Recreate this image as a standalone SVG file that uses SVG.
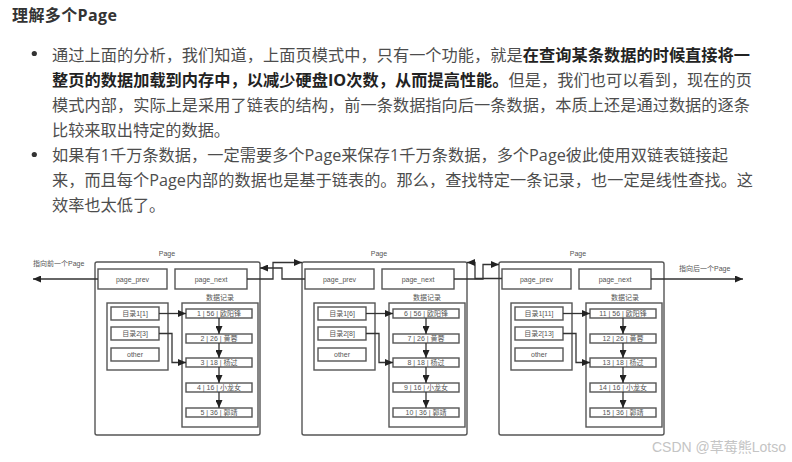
<svg xmlns="http://www.w3.org/2000/svg" width="792" height="462" viewBox="0 0 792 462">
<defs>
<style>
.body{font-family:"Open Sans","Noto Sans CJK SC",sans-serif;font-size:16.2px;fill:#4d4d4d}
.b{font-weight:bold;fill:#222}
.title{font-family:"Open Sans","Noto Sans CJK SC",sans-serif;font-size:16px;font-weight:bold;fill:#333}
.bx{fill:#fff;stroke:#555;stroke-width:1.4}
.ol{fill:none;stroke:#555;stroke-width:1.4}
.t{font-family:"Liberation Sans","Noto Sans CJK SC",sans-serif;font-size:7px;fill:#555;text-anchor:middle}
.tl{font-family:"Liberation Sans","Noto Sans CJK SC",sans-serif;font-size:7px;fill:#555}
.c{fill:none;stroke:#333;stroke-width:1.3;marker-end:url(#ah)}
.wm{font-family:"Liberation Sans","Noto Sans CJK SC",sans-serif;font-size:14px;fill:#c4c4c4}
</style>
<marker id="ah" markerUnits="userSpaceOnUse" markerWidth="8" markerHeight="7" refX="8" refY="3.5" orient="auto">
<path d="M0,0 L8,3.5 L0,7 Z" fill="#222"/>
</marker>
</defs>
<rect width="792" height="462" fill="#fff"/>
<g id="heading"><text class="title" x="12" y="21" textLength="105">理解多个Page</text></g>
<g id="bullets">
<circle cx="34.3" cy="53.5" r="2.6" fill="#333"/>
<circle cx="34.3" cy="154.5" r="2.6" fill="#333"/>
<text class="body" x="52" y="61" textLength="698">通过上面的分析，我们知道，上面页模式中，只有一个功能，就是<tspan class="b">在查询某条数据的时候直接将一</tspan></text>
<text class="body" x="52" y="86" textLength="700"><tspan class="b">整页的数据加载到内存中，以减少硬盘IO次数，从而提高性能。</tspan>但是，我们也可以看到，现在的页</text>
<text class="body" x="52" y="111" textLength="698">模式内部，实际上是采用了链表的结构，前一条数据指向后一条数据，本质上还是通过数据的逐条</text>
<text class="body" x="52" y="136">比较来取出特定的数据。</text>
<text class="body" x="52" y="161" textLength="676">如果有1千万条数据，一定需要多个Page来保存1千万条数据，多个Page彼此使用双链表链接起</text>
<text class="body" x="52" y="186" textLength="701">来，而且每个Page内部的数据也是基于链表的。那么，查找特定一条记录，也一定是线性查找。这</text>
<text class="body" x="52" y="211">效率也太低了。</text>
</g>

<g id="page1">
<rect class="ol" x="95" y="262" width="165" height="173" rx="2"/>
<text class="t" x="167" y="255.5">Page</text>
<g id="p1-prev"><rect class="bx" x="98" y="269" width="69" height="20"/><text class="t" x="132.5" y="281.5">page_prev</text></g>
<g id="p1-next"><rect class="bx" x="175" y="269" width="72" height="20"/><text class="t" x="211" y="281.5">page_next</text></g>
<g id="p1-dir"><rect class="bx" x="107" y="303" width="61" height="67"/></g>
<g id="p1-d1"><rect class="bx" x="111" y="307" width="48" height="13"/><text class="t" x="135" y="316">目录1[1]</text></g>
<g id="p1-d2"><rect class="bx" x="111" y="327" width="48" height="13"/><text class="t" x="135" y="336">目录2[3]</text></g>
<g id="p1-other"><rect class="bx" x="111" y="348" width="48" height="13"/><text class="t" x="135" y="357">other</text></g>
<g id="p1-data"><rect class="bx" x="182" y="303" width="76" height="124"/><text class="t" x="220" y="299.5">数据记录</text></g>
<g id="p1-r1"><rect class="bx" x="186" y="309" width="66" height="9"/><text class="t" x="219" y="316">1 | 56 | 欧阳锋</text></g>
<g id="p1-r2"><rect class="bx" x="186" y="334" width="66" height="9"/><text class="t" x="219" y="341">2 | 26 | 黄蓉</text></g>
<g id="p1-r3"><rect class="bx" x="186" y="358" width="66" height="9"/><text class="t" x="219" y="365">3 | 18 | 杨过</text></g>
<g id="p1-r4"><rect class="bx" x="186" y="383" width="66" height="9"/><text class="t" x="219" y="390">4 | 16 | 小龙女</text></g>
<g id="p1-r5"><rect class="bx" x="186" y="408" width="66" height="9"/><text class="t" x="219" y="415">5 | 36 | 郭靖</text></g>
</g>

<g id="page2">
<rect class="ol" x="302" y="262" width="165" height="173" rx="2"/>
<text class="t" x="379" y="255.5">Page</text>
<g id="p2-prev"><rect class="bx" x="305" y="269" width="69" height="20"/><text class="t" x="339.5" y="281.5">page_prev</text></g>
<g id="p2-next"><rect class="bx" x="382" y="269" width="72" height="20"/><text class="t" x="418" y="281.5">page_next</text></g>
<g id="p2-dir"><rect class="bx" x="314" y="303" width="61" height="67"/></g>
<g id="p2-d1"><rect class="bx" x="318" y="307" width="48" height="13"/><text class="t" x="342" y="316">目录1[6]</text></g>
<g id="p2-d2"><rect class="bx" x="318" y="327" width="48" height="13"/><text class="t" x="342" y="336">目录2[8]</text></g>
<g id="p2-other"><rect class="bx" x="318" y="348" width="48" height="13"/><text class="t" x="342" y="357">other</text></g>
<g id="p2-data"><rect class="bx" x="389" y="303" width="76" height="124"/><text class="t" x="427" y="299.5">数据记录</text></g>
<g id="p2-r1"><rect class="bx" x="393" y="309" width="66" height="9"/><text class="t" x="426" y="316">6 |  56 | 欧阳锋</text></g>
<g id="p2-r2"><rect class="bx" x="393" y="334" width="66" height="9"/><text class="t" x="426" y="341">7 |  26 | 黄蓉</text></g>
<g id="p2-r3"><rect class="bx" x="393" y="358" width="66" height="9"/><text class="t" x="426" y="365">8 |  18 | 杨过</text></g>
<g id="p2-r4"><rect class="bx" x="393" y="383" width="66" height="9"/><text class="t" x="426" y="390">9 |  16 | 小龙女</text></g>
<g id="p2-r5"><rect class="bx" x="393" y="408" width="66" height="9"/><text class="t" x="426" y="415">10 |  36 | 郭靖</text></g>
</g>

<g id="page3">
<rect class="ol" x="499" y="262" width="165" height="173" rx="2"/>
<text class="t" x="578" y="255.5">Page</text>
<g id="p3-prev"><rect class="bx" x="502" y="269" width="69" height="20"/><text class="t" x="536.5" y="281.5">page_prev</text></g>
<g id="p3-next"><rect class="bx" x="579" y="269" width="72" height="20"/><text class="t" x="615" y="281.5">page_next</text></g>
<g id="p3-dir"><rect class="bx" x="511" y="303" width="61" height="67"/></g>
<g id="p3-d1"><rect class="bx" x="515" y="307" width="48" height="13"/><text class="t" x="539" y="316">目录1[11]</text></g>
<g id="p3-d2"><rect class="bx" x="515" y="327" width="48" height="13"/><text class="t" x="539" y="336">目录2[13]</text></g>
<g id="p3-other"><rect class="bx" x="515" y="348" width="48" height="13"/><text class="t" x="539" y="357">other</text></g>
<g id="p3-data"><rect class="bx" x="586" y="303" width="76" height="124"/><text class="t" x="625" y="299.5">数据记录</text></g>
<g id="p3-r1"><rect class="bx" x="590" y="309" width="66" height="9"/><text class="t" x="623" y="316">11 |  56 | 欧阳锋</text></g>
<g id="p3-r2"><rect class="bx" x="590" y="334" width="66" height="9"/><text class="t" x="623" y="341">12 |  26 | 黄蓉</text></g>
<g id="p3-r3"><rect class="bx" x="590" y="358" width="66" height="9"/><text class="t" x="623" y="365">13 |  18 | 杨过</text></g>
<g id="p3-r4"><rect class="bx" x="590" y="383" width="66" height="9"/><text class="t" x="623" y="390">14 |  16 | 小龙女</text></g>
<g id="p3-r5"><rect class="bx" x="590" y="408" width="66" height="9"/><text class="t" x="623" y="415">15 |  36 | 郭靖</text></g>
</g>

<g id="ext-labels">
<text class="tl" x="33" y="266">指向前一个Page</text>
<text class="tl" x="679" y="270.5">指向后一个Page</text>
</g>

<g id="connectors">
<path class="c" d="M98,279 H33"/>
<path class="c" d="M651,279 H743"/>
<path class="c" d="M247,279 H273 V262.5 H302"/>
<path class="c" d="M305,279 H282 V268 H260"/>
<path class="c" d="M454,279 H483 V264.5 H499"/>
<path class="c" d="M502,278.5 H475 V262.5 H467"/>
<path class="c" d="M159,313.5 H186"/>
<path class="c" d="M159,333.5 H172 V362.5 H186"/>
<path class="c" d="M219,318 V334"/>
<path class="c" d="M219,343 V358"/>
<path class="c" d="M219,367 V383"/>
<path class="c" d="M219,392 V408"/>
<path class="c" d="M366,313.5 H393"/>
<path class="c" d="M366,333.5 H379 V362.5 H393"/>
<path class="c" d="M426,318 V334"/>
<path class="c" d="M426,343 V358"/>
<path class="c" d="M426,367 V383"/>
<path class="c" d="M426,392 V408"/>
<path class="c" d="M563,313.5 H590"/>
<path class="c" d="M563,333.5 H576 V362.5 H590"/>
<path class="c" d="M623,318 V334"/>
<path class="c" d="M623,343 V358"/>
<path class="c" d="M623,367 V383"/>
<path class="c" d="M623,392 V408"/>
</g>

<g id="watermark"><text class="wm" x="652" y="452">CSDN @草莓熊Lotso</text></g>
</svg>
